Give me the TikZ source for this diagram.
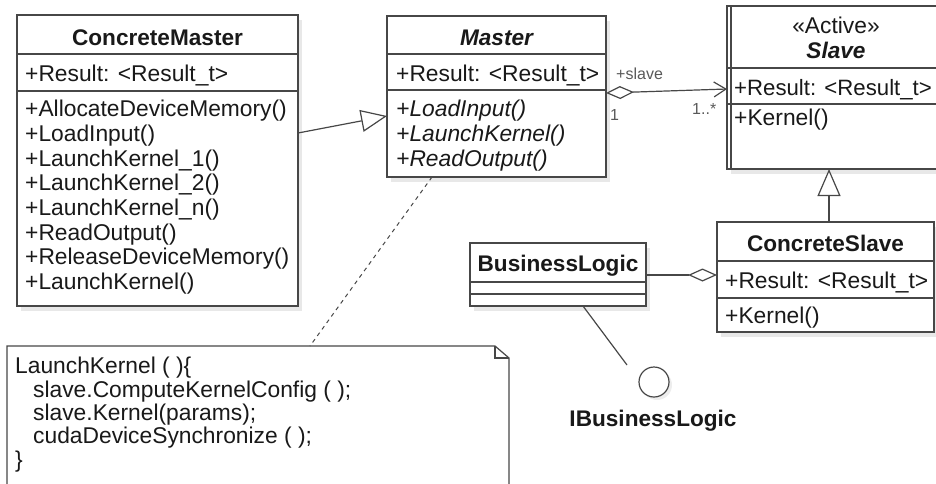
\documentclass[tikz,border=0pt]{standalone}
\usepackage{fontspec}
\setmainfont{Liberation Sans}
\usetikzlibrary{arrows.meta,shadows}

\colorlet{umlline}{black!72}
\colorlet{umltext}{black!90}

\tikzset{
  x=1pt, y=-1pt,
  ln/.style={draw=umlline, line width=1.2pt, line join=miter},
  classbox/.style={ln, fill=white, anchor=north west, inner sep=0pt, outer sep=0pt,
    drop shadow={shadow xshift=4pt, shadow yshift=-5pt, fill=black!9, opacity=1}},
  txt/.style={anchor=base west, inner sep=0pt, text=umltext,
    font=\fontsize{22.8}{25}\selectfont},
  ttl/.style={txt, anchor=base, font=\fontsize{22.6}{25}\selectfont\bfseries},
  small/.style={anchor=base west, inner sep=0pt, text=black!65,
    font=\fontsize{16}{18}\selectfont},
  gen/.style={ln, -{Triangle[open, fill=white, length=26pt, width=22pt]}},
  aggr/.style={ln, {Diamond[open, fill=white, length=28pt, width=13pt]}-{Straight Barb[length=12pt, width=15pt]}},
  aggrend/.style={ln, -{Diamond[open, fill=white, length=29pt, width=13pt]}},
}

\begin{document}
\begin{tikzpicture}
\useasboundingbox (0,0) rectangle (936,483);
\clip (0,0) rectangle (936,483);

% ---------- ConcreteMaster ----------
\node[classbox, minimum width=281pt, minimum height=291pt] (cm) at (17,15) {};
\draw[ln] (cm.west |- 0,54) -- (cm.east |- 0,54);
\draw[ln] (cm.west |- 0,91) -- (cm.east |- 0,91);
\node[ttl] (cm-t) at (157.5,45) {ConcreteMaster};
\node[txt] (cm-a) at (25,81) {+Result: <Result\_t>};
\node[txt] (cm-m1) at (25,116.7) {+AllocateDeviceMemory()};
\node[txt] (cm-m2) at (25,141.4) {+LoadInput()};
\node[txt] (cm-m3) at (25,166.1) {+LaunchKernel\_1()};
\node[txt] (cm-m4) at (25,190.8) {+LaunchKernel\_2()};
\node[txt] (cm-m5) at (25,215.5) {+LaunchKernel\_n()};
\node[txt] (cm-m6) at (25,240.2) {+ReadOutput()};
\node[txt] (cm-m7) at (25,264.9) {+ReleaseDeviceMemory()};
\node[txt] (cm-m8) at (25,289.6) {+LaunchKernel()};

% ---------- Master (abstract) ----------
\node[classbox, minimum width=219pt, minimum height=161pt] (ma) at (387,16) {};
\draw[ln] (ma.west |- 0,54) -- (ma.east |- 0,54);
\draw[ln] (ma.west |- 0,90) -- (ma.east |- 0,90);
\node[ttl, font=\fontsize{22.6}{25}\selectfont\bfseries\itshape] (ma-t) at (496.5,45) {Master};
\node[txt] (ma-a) at (396,81) {+Result: <Result\_t>};
\node[txt, font=\fontsize{22.8}{25}\selectfont\itshape] (ma-m1) at (396,116.7) {+LoadInput()};
\node[txt, font=\fontsize{22.8}{25}\selectfont\itshape] (ma-m2) at (396,141.4) {+LaunchKernel()};
\node[txt, font=\fontsize{22.8}{25}\selectfont\itshape] (ma-m3) at (396,166.1) {+ReadOutput()};

% ---------- Slave (active class) ----------
\node[classbox, minimum width=218pt, minimum height=163pt] (sl) at (727,6) {};
\draw[ln] ([xshift=4pt]sl.north west) -- ([xshift=4pt]sl.south west);
\draw[ln] (sl.west |- 0,68) -- (sl.east |- 0,68);
\draw[ln] (sl.west |- 0,104) -- (sl.east |- 0,104);
\node[txt, anchor=base] (sl-s) at (836,33) {«Active»};
\node[ttl, font=\fontsize{22.6}{25}\selectfont\bfseries\itshape] (sl-t) at (836,58) {Slave};
\node[txt, font=\fontsize{22.2}{25}\selectfont] (sl-a) at (734,95) {+Result: <Result\_t>};
\node[txt] (sl-m1) at (734,125) {+Kernel()};

% ---------- ConcreteSlave ----------
\node[classbox, minimum width=217pt, minimum height=110pt] (cs) at (717,222) {};
\draw[ln] (cs.west |- 0,261) -- (cs.east |- 0,261);
\draw[ln] (cs.west |- 0,298) -- (cs.east |- 0,298);
\node[ttl] (cs-t) at (825.5,251) {ConcreteSlave};
\node[txt] (cs-a) at (725,288) {+Result: <Result\_t>};
\node[txt] (cs-m1) at (725,323) {+Kernel()};

% ---------- BusinessLogic ----------
\node[classbox, minimum width=176pt, minimum height=63pt] (bl) at (470,243) {};
\draw[ln] (bl.west |- 0,282) -- (bl.east |- 0,282);
\draw[ln] (bl.west |- 0,294) -- (bl.east |- 0,294);
\node[ttl] (bl-t) at (558,271) {BusinessLogic};

% ---------- provided interface (lollipop) ----------
\node[ln, circle, fill=white, minimum size=30pt, inner sep=0pt,
  drop shadow={shadow xshift=3pt, shadow yshift=-3pt, fill=black!7, opacity=1}] (ibl) at (654,382) {};
\node[ttl] (ibl-t) at (653,426) {IBusinessLogic};
\coordinate (lollend) at (627,365);
\draw[ln] (bl.south -| 583,0) -- (lollend);

% ---------- note ----------
\node[anchor=north west, inner sep=0pt, outer sep=0pt,
  minimum width=502pt, minimum height=150pt] (note) at (7,346) {};
\draw[ln, fill=white] (note.north west) -- ([xshift=-14pt]note.north east)
  -- ([yshift=-12pt]note.north east) -- (note.south east)
  -- (note.south west) -- cycle;
\draw[ln] ([xshift=-14pt]note.north east) -- ([xshift=-14pt,yshift=-12pt]note.north east)
  -- ([yshift=-12pt]note.north east);
\node[txt] (n1) at (15,373) {LaunchKernel ( )\{};
\node[txt] (n2) at (33,397) {slave.ComputeKernelConfig ( );};
\node[txt] (n3) at (33,420) {slave.Kernel(params);};
\node[txt] (n4) at (33,443) {cudaDeviceSynchronize ( );};
\node[txt] (n5) at (15,467) {\}};

% ---------- connectors ----------
% ConcreteMaster realises Master
\draw[gen] (cm.east |- 0,133) -- (ma.west |- 0,116);
% Master aggregates Slave
\draw[aggr] (ma.east |- 0,93) -- (sl.west |- 0,89);
\node[small] (role) at (616,79) {+slave};
\node[small] (mult1) at (610,120) {1};
\node[small] (multn) at (692,114) {1..*};
% ConcreteSlave specialises Slave
\draw[ln, -{Triangle[open, fill=white, length=27pt, width=23pt]}] (cs.north -| 829,0) -- (sl.south -| 829,0);
% BusinessLogic is held by ConcreteSlave
\draw[aggrend] (bl.east |- 0,275) -- (cs.west |- 0,275);
% note anchored to Master
\draw[ln, line width=1pt, dash pattern=on 4pt off 4pt] (ma.south -| 432,0) -- (note.north -| 310,0);
\end{tikzpicture}
\end{document}
